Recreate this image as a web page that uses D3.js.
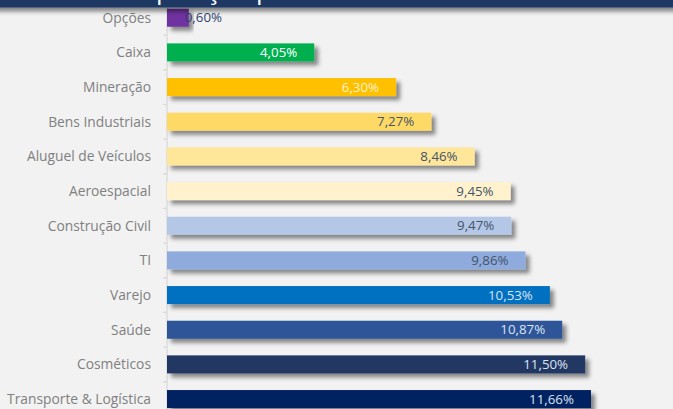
<!DOCTYPE html>
<html>
<head>
<meta charset="utf-8">
<script src="https://cdn.jsdelivr.net/npm/d3@7"></script>
<style>
  html, body { margin: 0; padding: 0; background: #f2f2f2; }
  #chart { width: 673px; height: 409px; overflow: hidden; }
</style>
</head>
<body>
<div id="chart"></div>
<script>
// ---- data ----
const setores = ["Opções", "Caixa", "Mineração", "Bens Industriais", "Aluguel de Veículos",
  "Aeroespacial", "Construção Civil", "TI", "Varejo", "Saúde", "Cosméticos", "Transporte & Logística"];
const pesos = [0.60, 4.05, 6.30, 7.27, 8.46, 9.45, 9.47, 9.86, 10.53, 10.87, 11.50, 11.66];
const cores = ["#7030a0", "#00b050", "#ffc000", "#ffd966", "#ffe699", "#fff2cc",
  "#b4c7e7", "#8faadc", "#0070c0", "#2f5597", "#203864", "#002060"];
const coresTexto = ["#2f3f6f", "#ffffff", "#fff2cc", "#44546a", "#44546a", "#44546a",
  "#44546a", "#44546a", "#dae3f3", "#dae3f3", "#dae3f3", "#dae3f3"];
const titulo = "Composição por Setor";

const data = setores.map((s, i) => ({ setor: s, peso: pesos[i], cor: cores[i], corTexto: coresTexto[i] }));

const width = 673, height = 409;
const fmt = v => v.toFixed(2).replace(".", ",") + "%";

const svg = d3.select("#chart").append("svg")
  .attr("width", width)
  .attr("height", height);

// drop shadow like Excel's outer shadow
const defs = svg.append("defs");
const f = defs.append("filter").attr("id", "sombra")
  .attr("x", "-10%").attr("y", "-50%").attr("width", "130%").attr("height", "250%");
f.append("feDropShadow")
  .attr("dx", 4).attr("dy", 4).attr("stdDeviation", 2.2)
  .attr("flood-color", "#000").attr("flood-opacity", 0.45);

svg.append("rect").attr("width", width).attr("height", height).attr("fill", "#f2f2f2");

const x = d3.scaleLinear().domain([0, 14]).range([167, 167 + 14 * 36.36]);
const y = d3.scaleBand().domain(setores)
  .range([0.4, 416.4])
  .paddingInner(0.48)
  .paddingOuter(0.24);

// axis line + ticks between categories
const axis = svg.append("g").attr("transform", `translate(${x(0)},0)`);
axis.append("line")
  .attr("y1", 0).attr("y2", height)
  .attr("stroke", "#d9d9d9").attr("stroke-width", 1.3);
axis.selectAll("line.tick")
  .data(setores.slice(1))
  .enter().append("line")
  .attr("class", "tick")
  .attr("x1", -4).attr("x2", 0)
  .attr("y1", d => y(d) - y.step() * y.paddingInner() / 2)
  .attr("y2", d => y(d) - y.step() * y.paddingInner() / 2)
  .attr("stroke", "#d9d9d9").attr("stroke-width", 1.3);

// category labels
svg.append("g").selectAll("text")
  .data(data)
  .enter().append("text")
  .attr("x", 151)
  .attr("y", d => y(d.setor) + y.bandwidth() / 2)
  .attr("dy", "0.35em")
  .attr("text-anchor", "end")
  .style("font-family", "'Open Sans', sans-serif")
  .style("font-size", "13.8px")
  .style("fill", "#808080")
  .text(d => d.setor);

// bars
svg.append("g").selectAll("rect")
  .data(data)
  .enter().append("rect")
  .attr("x", x(0))
  .attr("y", d => y(d.setor))
  .attr("width", d => x(d.peso) - x(0))
  .attr("height", y.bandwidth())
  .attr("fill", d => d.cor)
  .attr("filter", "url(#sombra)");

// value labels (inside end, pushed out when bar is too short)
svg.append("g").selectAll("text")
  .data(data)
  .enter().append("text")
  .attr("x", d => Math.max(x(d.peso) - 17, x(0) + 55))
  .attr("y", d => y(d.setor) + y.bandwidth() / 2)
  .attr("dy", "0.35em")
  .attr("text-anchor", "end")
  .style("font-family", "'Open Sans', sans-serif")
  .style("font-size", "13.3px")
  .style("fill", d => d.corTexto)
  .text(d => fmt(d.peso));

// header band (title mostly cut off at the top)
const header = svg.append("g");
header.append("rect")
  .attr("x", -10).attr("y", -40)
  .attr("width", width + 20).attr("height", 47.5)
  .attr("fill", "#1f3864")
  .attr("filter", "url(#sombra)");
header.append("text")
  .attr("x", 100)
  .attr("y", -1.5)
  .style("font-family", "'Open Sans', sans-serif")
  .style("font-size", "26px")
  .style("fill", "#ffffff")
  .text(titulo);
</script>
</body>
</html>
